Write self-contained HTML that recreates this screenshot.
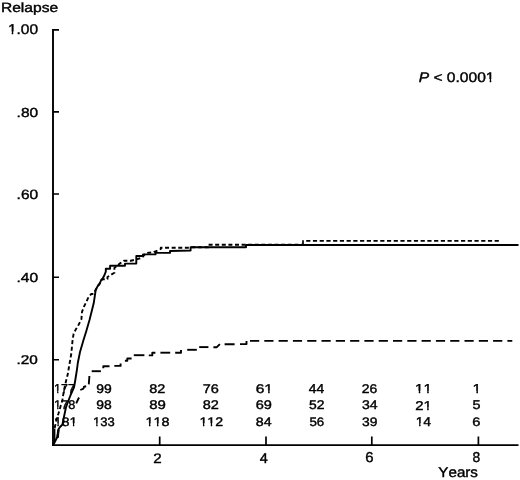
<!DOCTYPE html>
<html><head><meta charset="utf-8">
<style>
html,body{margin:0;padding:0;background:#fff;}
svg{display:block;will-change:transform;}
text{font-family:"Liberation Sans",sans-serif;font-kerning:none;text-rendering:geometricPrecision;fill:#000;stroke:#000;stroke-width:0.40px;}
</style></head>
<body>
<svg width="520" height="480" viewBox="0 0 520 480">
<defs>
<clipPath id="c1" clipPathUnits="userSpaceOnUse"><path clip-rule="evenodd" d="M-50,-50H77.5V50H-50ZM-0.21,2.76H3.51V-2.76H-0.21ZM4.84,2.76H7.93V-2.76H4.84Z"/></clipPath>
<clipPath id="c2" clipPathUnits="userSpaceOnUse"><path clip-rule="evenodd" d="M-50,-50H117.3V50H-50ZM59.44,2.70H63.08V-2.70H59.44ZM64.39,2.70H67.42V-2.70H64.39Z"/></clipPath>
<clipPath id="c3" clipPathUnits="userSpaceOnUse"><path clip-rule="evenodd" d="M-50,-50H71.6V50H-50ZM-0.19,2.53H3.22V-2.53H-0.19ZM4.43,2.53H7.26V-2.53H4.43Z"/></clipPath>
<clipPath id="c4" clipPathUnits="userSpaceOnUse"><path clip-rule="evenodd" d="M-50,-50H64.0V50H-50ZM6.81,2.46H10.12V-2.46H6.81ZM11.30,2.46H14.05V-2.46H11.30Z"/></clipPath>
<clipPath id="c5" clipPathUnits="userSpaceOnUse"><path clip-rule="evenodd" d="M-50,-50H64.4V50H-50ZM-0.19,2.53H3.22V-2.53H-0.19ZM4.43,2.53H10.41V-2.53H4.43ZM11.63,2.53H14.46V-2.53H11.63Z"/></clipPath>
<clipPath id="c6" clipPathUnits="userSpaceOnUse"><path clip-rule="evenodd" d="M-50,-50H57.2V50H-50ZM-0.19,2.53H3.22V-2.53H-0.19ZM4.43,2.53H7.26V-2.53H4.43Z"/></clipPath>
<clipPath id="c7" clipPathUnits="userSpaceOnUse"><path clip-rule="evenodd" d="M-50,-50H71.0V50H-50ZM-0.18,2.46H3.12V-2.46H-0.18ZM4.31,2.46H7.06V-2.46H4.31Z"/></clipPath>
<clipPath id="c8" clipPathUnits="userSpaceOnUse"><path clip-rule="evenodd" d="M-50,-50H64.2V50H-50ZM6.90,2.49H10.26V-2.49H6.90ZM11.46,2.49H14.25V-2.49H11.46Z"/></clipPath>
<clipPath id="c9" clipPathUnits="userSpaceOnUse"><path clip-rule="evenodd" d="M-50,-50H70.5V50H-50ZM-0.18,2.40H3.05V-2.40H-0.18ZM4.21,2.40H6.90V-2.40H4.21ZM13.49,2.40H16.72V-2.40H13.49ZM17.88,2.40H20.57V-2.40H17.88Z"/></clipPath>
<clipPath id="c10" clipPathUnits="userSpaceOnUse"><path clip-rule="evenodd" d="M-50,-50H70.5V50H-50ZM-0.18,2.40H3.05V-2.40H-0.18ZM4.21,2.40H6.90V-2.40H4.21Z"/></clipPath>
<clipPath id="c11" clipPathUnits="userSpaceOnUse"><path clip-rule="evenodd" d="M-50,-50H70.5V50H-50ZM-0.18,2.40H3.05V-2.40H-0.18ZM4.21,2.40H9.89V-2.40H4.21ZM11.05,2.40H13.73V-2.40H11.05Z"/></clipPath>
<clipPath id="c12" clipPathUnits="userSpaceOnUse"><path clip-rule="evenodd" d="M-50,-50H70.8V50H-50ZM-0.18,2.43H3.10V-2.43H-0.18ZM4.27,2.43H10.03V-2.43H4.27ZM11.20,2.43H13.93V-2.43H11.20Z"/></clipPath>
<clipPath id="c13" clipPathUnits="userSpaceOnUse"><path clip-rule="evenodd" d="M-50,-50H64.1V50H-50ZM-0.19,2.47H3.14V-2.47H-0.19ZM4.33,2.47H7.10V-2.47H4.33Z"/></clipPath>
</defs>
<rect width="520" height="480" fill="#fff"/>
<text transform="translate(0.919 11.639) scale(1.17347 1)" font-size="13.303">Relapse</text>
<text transform="translate(7.907 34.262) scale(1.09854 1)" font-size="14.124" clip-path="url(#c1)">1.00</text>
<text transform="translate(16.587 116.572) scale(1.17842 1)" font-size="13.135">.80</text>
<text transform="translate(16.587 198.569) scale(1.15361 1)" font-size="13.418">.60</text>
<text transform="translate(16.479 281.572) scale(1.18446 1)" font-size="13.135">.40</text>
<text transform="translate(16.501 363.876) scale(1.20521 1)" font-size="12.712">.20</text>
<text transform="translate(153.238 462.600) scale(1.10162 1)" font-size="13.749">2</text>
<text transform="translate(259.668 462.600) scale(1.01702 1)" font-size="14.244">4</text>
<text transform="translate(365.241 462.461) scale(1.04825 1)" font-size="14.265">6</text>
<text transform="translate(472.498 462.461) scale(0.97104 1)" font-size="14.265">8</text>
<text transform="translate(438.367 477.060) scale(1.05720 1)" font-size="14.332">Years</text>
<text transform="translate(418.720 81.665) scale(1.12635 1)" font-size="13.842" clip-path="url(#c2)"><tspan font-style="italic">P</tspan> &lt; 0.0001</text>
<text transform="translate(54.105 393.200) scale(0.95994 1)" font-size="12.936" clip-path="url(#c3)">177</text>
<text transform="translate(96.246 393.077) scale(1.10958 1)" font-size="12.570">99</text>
<text transform="translate(149.273 393.077) scale(1.14810 1)" font-size="12.570">82</text>
<text transform="translate(202.706 393.077) scale(1.15367 1)" font-size="12.570">76</text>
<text transform="translate(255.660 393.077) scale(1.23768 1)" font-size="12.570" clip-path="url(#c4)">61</text>
<text transform="translate(308.682 393.200) scale(1.07196 1)" font-size="12.936">44</text>
<text transform="translate(361.799 393.077) scale(1.10958 1)" font-size="12.570">26</text>
<text transform="translate(415.045 393.200) scale(1.16948 1)" font-size="12.936" clip-path="url(#c5)">11</text>
<text transform="translate(472.600 393.200) scale(1.20560 1)" font-size="12.936" clip-path="url(#c6)">1</text>
<text transform="translate(54.079 409.477) scale(1.00948 1)" font-size="12.570" clip-path="url(#c7)">178</text>
<text transform="translate(96.249 409.477) scale(1.10534 1)" font-size="12.570">98</text>
<text transform="translate(149.249 409.477) scale(1.19154 1)" font-size="12.570">89</text>
<text transform="translate(202.821 409.477) scale(1.15201 1)" font-size="12.570">82</text>
<text transform="translate(255.711 409.477) scale(1.15700 1)" font-size="12.570">69</text>
<text transform="translate(308.944 409.477) scale(1.10534 1)" font-size="12.570">52</text>
<text transform="translate(361.964 409.477) scale(1.11913 1)" font-size="12.570">34</text>
<text transform="translate(415.251 409.600) scale(1.16888 1)" font-size="12.746" clip-path="url(#c8)">21</text>
<text transform="translate(472.526 409.475) scale(1.12443 1)" font-size="12.755">5</text>
<text transform="translate(53.959 425.580) scale(1.13432 1)" font-size="12.288" clip-path="url(#c9)">181</text>
<text transform="translate(93.048 425.580) scale(1.05964 1)" font-size="12.288" clip-path="url(#c10)">133</text>
<text transform="translate(145.416 425.580) scale(1.17108 1)" font-size="12.288" clip-path="url(#c11)">118</text>
<text transform="translate(199.441 425.700) scale(1.13375 1)" font-size="12.460" clip-path="url(#c12)">112</text>
<text transform="translate(255.833 425.580) scale(1.15469 1)" font-size="12.288">84</text>
<text transform="translate(309.467 425.580) scale(1.08420 1)" font-size="12.288">56</text>
<text transform="translate(361.973 425.580) scale(1.12538 1)" font-size="12.288">39</text>
<text transform="translate(415.665 425.700) scale(1.09786 1)" font-size="12.646" clip-path="url(#c13)">14</text>
<text transform="translate(472.352 425.580) scale(1.19929 1)" font-size="12.288">6</text>
<g stroke="#000" fill="none" stroke-linecap="butt">
<path stroke-width="1.9" d="M53,29 V446 M52,445.1 H518.5"/>
<path stroke-width="1.6" d="M53,29.9 H59 M53,111.9 H59 M53,194 H59 M53,277.3 H59 M53,359.8 H59"/>
<path stroke-width="1.7" d="M159.7,445 V436.5 M266,445 V436.5 M371.8,445 V436.5 M478.4,445 V436.5"/>
</g>
<g stroke="#000" stroke-width="1.9" fill="none" stroke-linejoin="round">
<path d="M53.5,444.5 L55,441.5 L57.3,437 L58.2,432 L58.6,429 L60,427 L62.5,424.5 L63.3,420 L66,407.2 L70.6,395 L74.1,387 L75.3,380 L76.9,370 L77.8,363 L80,352 L83.5,340 L86.1,331.7 L89.5,320 L93.7,303.3 L95.7,290 L97.8,285.8 L99.5,284.2 L101.2,280 L102.8,278.3 L104.5,275 L105.8,271.7 L105.8,268.8 L110.1,268.8 L110.1,265.8 L125,265.8 L125,263.6 L136.3,263.6 L136.3,256 L143,256 L143,254.4 L155.5,254.4 L155.5,252.9 L170,252.9 L170,251 L190.6,250.5 L190.6,247.3 L246,247.3 L246,245 L518.5,245"/>
<path stroke-width="1.4" d="M53.8,444 L54.7,440 L54.7,428.5"/>
<path stroke-dasharray="4 2.6" d="M54.7,428 L56.4,419.6 L58.4,413.7 L62.4,400 L64,390 L65.9,381.5 L67.7,374.6 L68.8,368 L71.3,353.5 L72.6,340 L73.6,333.8 L75.7,329.6 L78.8,324.4 L81.4,319.2 L82,311.9 L84,306.7 L88.7,296.8 L91.3,294 L93.5,294 L96.3,288.8 L102,279.4 L107.5,279 L107.5,277 L114.4,272.7 L114.4,268 L119.7,263.6 L124,260.7 L130.8,260.7 L135.1,259.7 L141.8,257.8 L146,253 L153,252.4 L157.3,250.7 L160.8,249 L160.8,247.8 L189,247.8 L190.7,247.3 L208.5,247.3 L208.5,244.7 L303,244.7"/>
<path stroke-width="1.7" d="M303,245.5 V240.2"/>
<path stroke-dasharray="4.2 2.53" d="M306.2,240.85 H499.2"/>
<path stroke-width="2.4" d="M57.6,438 L58.4,429.5"/>
<path d="M76.2,403.3 L79,397.5"/>
<path d="M80.3,390 L83.5,388.6 L84,386.8 L86.2,386.3"/>
<path d="M88.8,384.4 L89.4,376"/>
<path d="M91.7,371.2 L100.9,371.2"/>
<path d="M103.3,368.3 L103.3,366.2 L109.5,366.2"/>
<path d="M114.3,365.9 L120.6,365.9 L120.6,363.5"/>
<path d="M124.9,360.8 H127.3 V358.5 H131.6"/>
<path d="M133.8,355.2 L144.4,355.2"/>
<path d="M148.8,355.4 H152.3 V352.8 H155.4"/>
<path d="M160.4,352.7 L170.2,352.7"/>
<path d="M175.2,352.7 L181,352.7 L181,350"/>
<path d="M187.2,349.8 L196.8,349.8"/>
<path d="M199.2,347.1 L208.4,347.1"/>
<path d="M213.4,347.2 H216.8 L219.9,344.1"/>
<path d="M224.6,344.2 H234.6 M240,344.1 H246.5 V341"/>
<path stroke-dasharray="9.2 5.1" d="M250,340.9 H512.3"/>
</g>

</svg>
</body></html>
